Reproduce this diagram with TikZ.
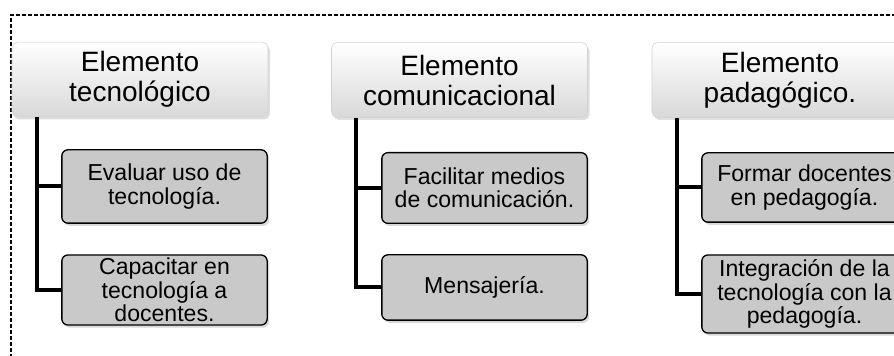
\documentclass[tikz,border=0pt]{standalone}
\usepackage{fontspec}
\setmainfont{Liberation Sans}
\usetikzlibrary{shadows,calc}
\begin{document}
\begin{tikzpicture}[x=0.75pt,y=-0.75pt,
    titlebox/.style={rounded corners=4pt,draw=gray!35,top color=white,bottom color=gray!30,
      minimum width=192pt,minimum height=56pt,align=center,
      font=\fontsize{21}{22.5}\selectfont,
      drop shadow={opacity=0.25,shadow xshift=1.5pt,shadow yshift=-2pt}},
    itembox/.style={rounded corners=4.5pt,draw=black,line width=1pt,fill=black!21,
      minimum width=154pt,align=center,inner sep=1pt,
      font=\fontsize{17.3}{17.6}\selectfont,
      drop shadow={opacity=0.3,shadow xshift=1.5pt,shadow yshift=-2pt}},
    branch/.style={line width=3pt}]
  \useasboundingbox (0,0) rectangle (894,356);
  \clip (0,0) rectangle (894,356);
  % frame
  \draw[line width=0.8pt,dash pattern=on 3pt off 1.5pt] (11,370) -- (11,15) -- (910,15);
  % left
  \node[titlebox] (tec) at (140,79.5) {Elemento\\tecnológico};
  \node[itembox,minimum height=55pt] (tec1) at (164.5,186.5) {Evaluar uso de\\tecnología.};
  \node[itembox,minimum height=52.5pt] (tec2) at (164.5,290) {Capacitar en\\tecnología a\\docentes.};
  \coordinate (rt) at ($(tec.south west)+(25,0)$);
  \draw[branch] (rt) |- (tec2.west);
  \draw[branch] (rt |- tec1.west) -- (tec1.west);
  % middle
  \node[titlebox] (com) at (459.5,80) {Elemento\\comunicacional};
  \node[itembox,minimum height=53pt] (com1) at (484.5,188) {Facilitar medios\\de comunicación.};
  \node[itembox,minimum height=49pt] (com2) at (484.5,287.5) {Mensajería.};
  \coordinate (rc) at ($(com.south west)+(25,0)$);
  \draw[branch] (rc) |- (com2.west);
  \draw[branch] (rc |- com1.west) -- (com1.west);
  % right
  \node[titlebox] (ped) at (780,80) {Elemento\\padagógico.};
  \node[itembox,minimum height=52pt] (ped1) at (804.5,187.5) {Formar docentes\\en pedagogía.};
  \node[itembox,minimum height=58.5pt] (ped2) at (804.5,294) {Integración de la\\tecnología con la\\pedagogía.};
  \coordinate (rp) at ($(ped.south west)+(25,0)$);
  \draw[branch] (rp) |- (ped2.west);
  \draw[branch] (rp |- ped1.west) -- (ped1.west);
\end{tikzpicture}
\end{document}
